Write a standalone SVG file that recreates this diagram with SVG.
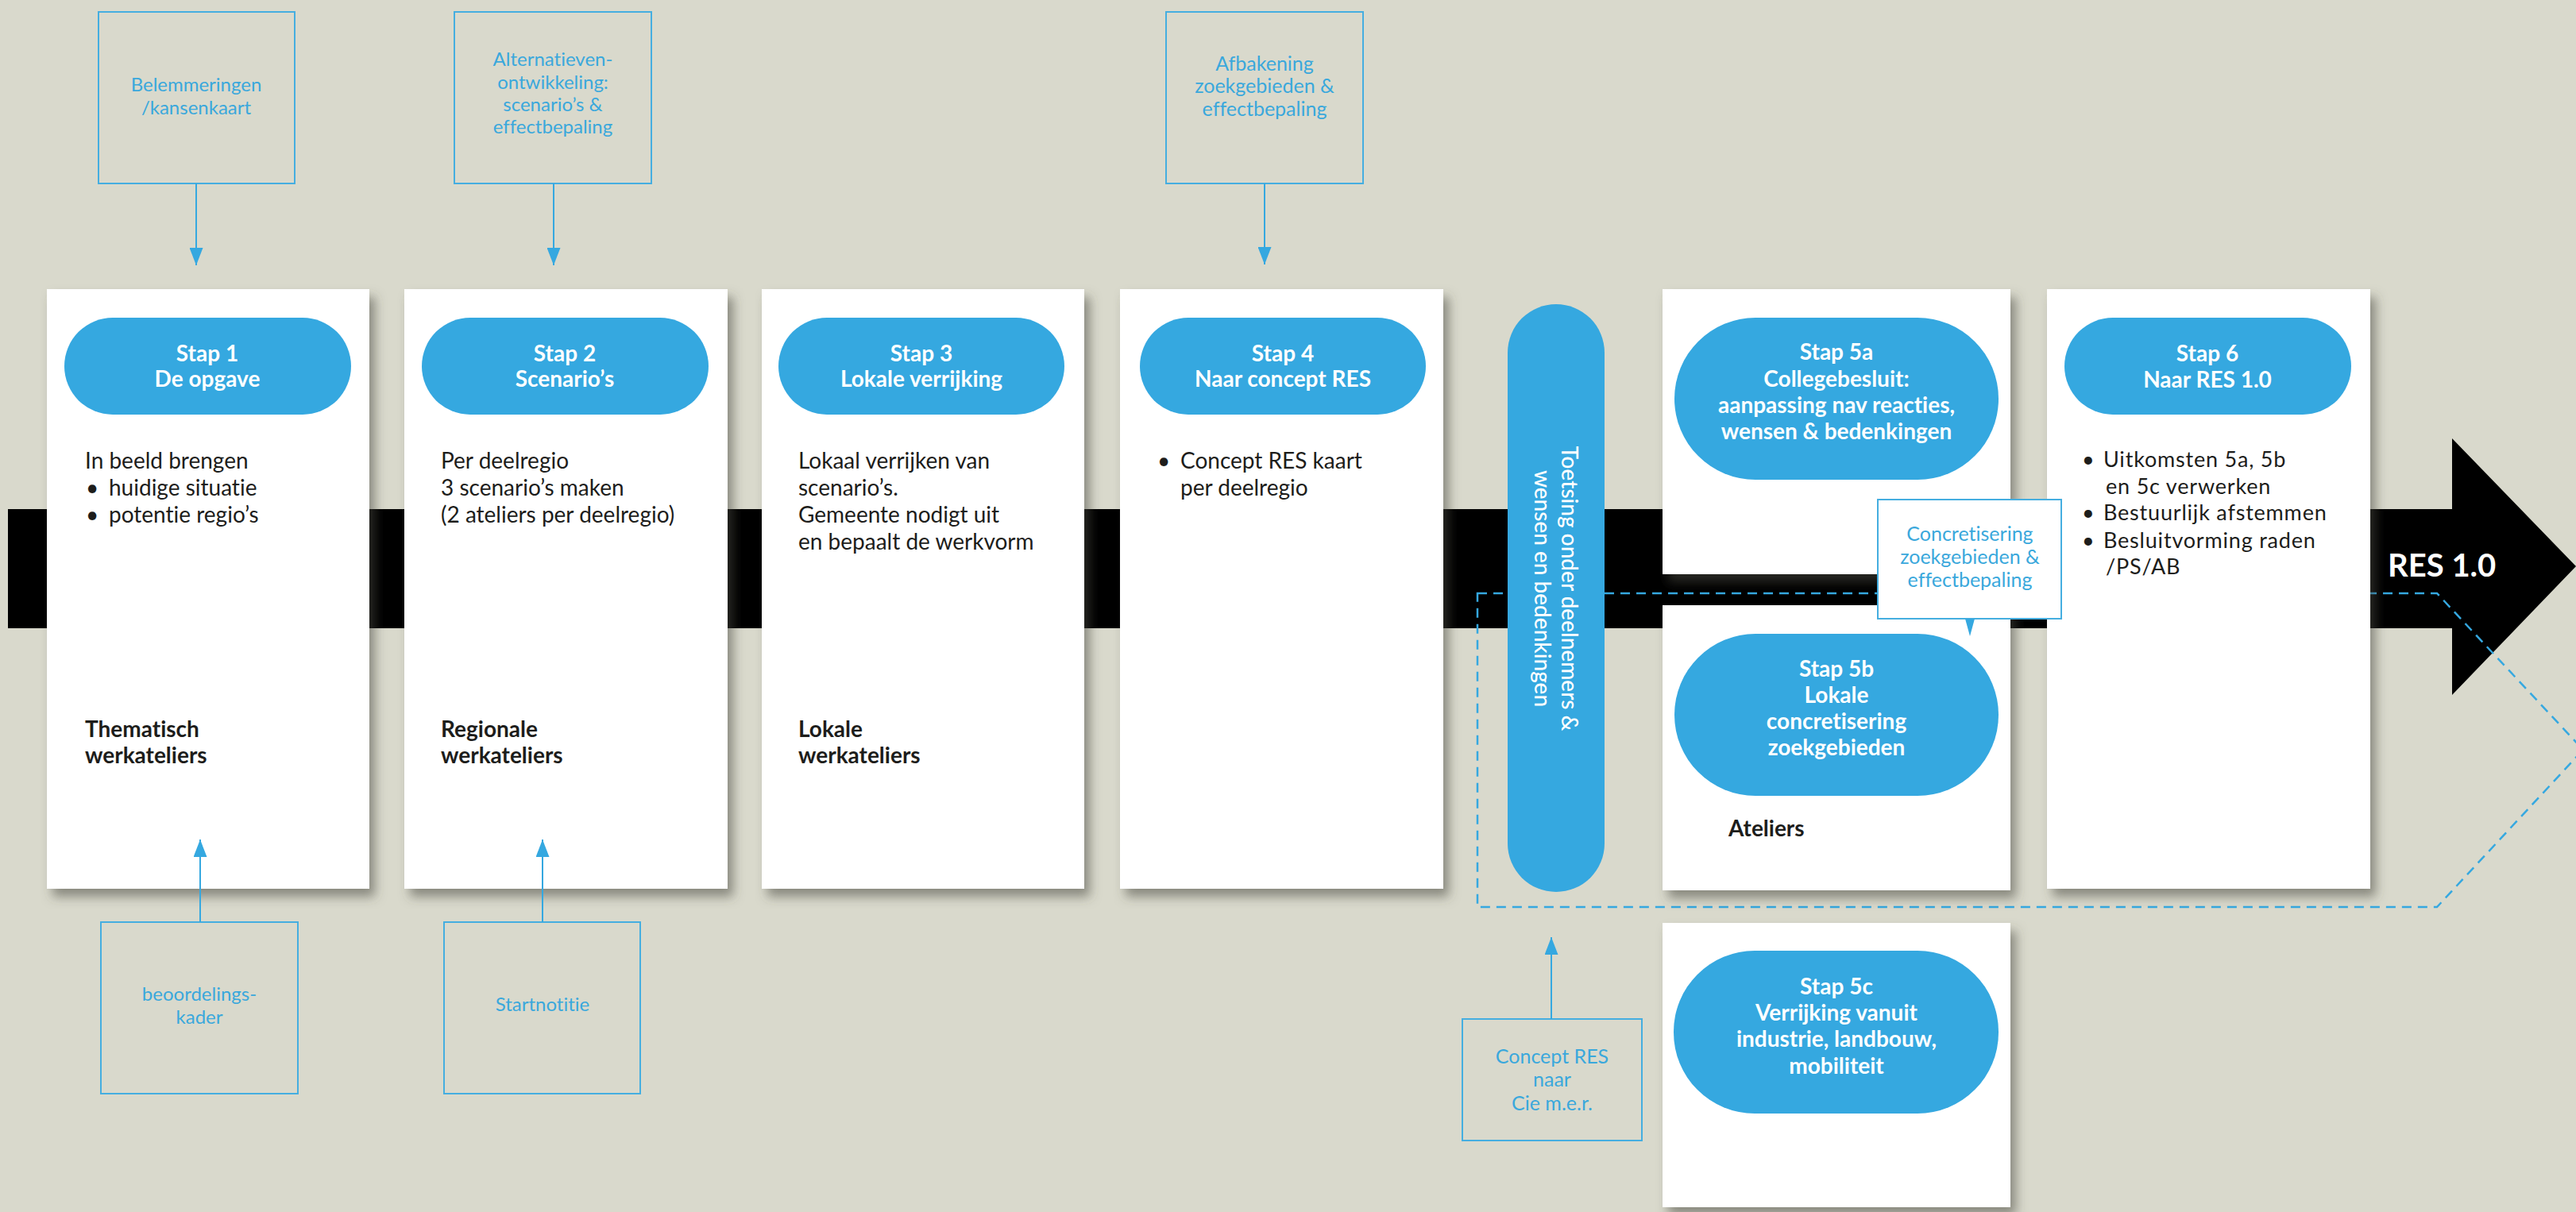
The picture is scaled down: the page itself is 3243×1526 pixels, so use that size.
<svg xmlns="http://www.w3.org/2000/svg" width="3243" height="1526" viewBox="0 0 3243 1526">
<defs>
<style>
text{font-variant-ligatures:none}
.bg{fill:#d9d9cc}
.card{fill:#ffffff;filter:url(#sh)}
.pill{fill:#35a8e0}
.box{fill:none;stroke:#45aee0;stroke-width:2}
.pt{font-family:Lato,"Open Sans",sans-serif;font-weight:700;font-size:28px;fill:#ffffff;text-anchor:middle}
.vt{font-family:Lato,"Open Sans",sans-serif;font-weight:500;font-size:28px;fill:#ffffff;text-anchor:middle}
.body{font-family:Lato,"Open Sans",sans-serif;font-size:28px;fill:#1d1d1b}
.b6{font-family:Lato,"Open Sans",sans-serif;font-size:27px;fill:#1d1d1b;letter-spacing:0.8px}
.bold{font-family:Lato,"Open Sans",sans-serif;font-size:28px;font-weight:700;fill:#1d1d1b}
.bt{font-family:Lato,"Open Sans",sans-serif;font-size:24px;fill:#3aa8dc;text-anchor:middle}
.bw{font-family:Lato,"Open Sans",sans-serif;font-size:25px;fill:#3aa8dc;text-anchor:middle}
.conn{stroke:#35a8e0;stroke-width:2;fill:none}
.dash{stroke:#35a8e0;stroke-width:2.5;fill:none;stroke-dasharray:12 8}
</style>
<filter id="sh" x="-10%" y="-10%" width="130%" height="130%">
<feDropShadow dx="7" dy="10" stdDeviation="7" flood-color="#4a4a40" flood-opacity="0.55"/>
</filter>
<marker id="ah" markerUnits="userSpaceOnUse" markerWidth="22" markerHeight="17" refX="22" refY="8.5" orient="auto">
<path d="M0,0 L22,8.5 L0,17 Z" fill="#35a8e0"/>
</marker>
</defs>
<rect class="bg" x="0" y="0" width="3243" height="1526"/>

<g id="timeline">
<polygon points="10,641 3087,641 3087,552 3243,713 3087,875 3087,791 10,791" fill="#000000"/>
<text x="3006" y="726" font-family="Lato,'Open Sans',sans-serif" font-weight="700" font-size="40" fill="#ffffff">RES 1.0</text>
</g>

<g id="stap5-kader">
<path class="dash" d="M1860,747 H3068 L3252,944 L3068,1142 H1860 Z"/>
</g>

<g id="stap1">
<rect class="card" x="59" y="364" width="406" height="755"/>
<rect class="pill" x="81" y="400" width="361" height="122" rx="61"/>
<text class="pt" x="261" y="455">Stap 1</text>
<text class="pt" x="261" y="487">De opgave</text>
<text class="body" x="107" y="590">In beeld brengen</text>
<text class="body" x="108" y="624">•</text>
<text class="body" x="137" y="624">huidige situatie</text>
<text class="body" x="108" y="658">•</text>
<text class="body" x="137" y="658">potentie regio’s</text>
<text class="bold" x="107" y="928">Thematisch</text>
<text class="bold" x="107" y="961">werkateliers</text>
</g>

<g id="stap2">
<rect class="card" x="509" y="364" width="407" height="755"/>
<rect class="pill" x="531" y="400" width="361" height="122" rx="61"/>
<text class="pt" x="711" y="455">Stap 2</text>
<text class="pt" x="711" y="487">Scenario’s</text>
<text class="body" x="555" y="590">Per deelregio</text>
<text class="body" x="555" y="624">3 scenario’s maken</text>
<text class="body" x="555" y="658">(2 ateliers per deelregio)</text>
<text class="bold" x="555" y="928">Regionale</text>
<text class="bold" x="555" y="961">werkateliers</text>
</g>

<g id="stap3">
<rect class="card" x="959" y="364" width="406" height="755"/>
<rect class="pill" x="980" y="400" width="360" height="122" rx="61"/>
<text class="pt" x="1160" y="455">Stap 3</text>
<text class="pt" x="1160" y="487">Lokale verrijking</text>
<text class="body" x="1005" y="590">Lokaal verrijken van</text>
<text class="body" x="1005" y="624">scenario’s.</text>
<text class="body" x="1005" y="658">Gemeente nodigt uit</text>
<text class="body" x="1005" y="692">en bepaalt de werkvorm</text>
<text class="bold" x="1005" y="928">Lokale</text>
<text class="bold" x="1005" y="961">werkateliers</text>
</g>

<g id="stap4">
<rect class="card" x="1410" y="364" width="407" height="755"/>
<rect class="pill" x="1435" y="400" width="360" height="122" rx="61"/>
<text class="pt" x="1615" y="455">Stap 4</text>
<text class="pt" x="1615" y="487">Naar concept RES</text>
<text class="body" x="1457" y="590">•</text>
<text class="body" x="1486" y="590">Concept RES kaart</text>
<text class="body" x="1486" y="624">per deelregio</text>
</g>

<g id="toetsing">
<rect class="pill" x="1898" y="383" width="122" height="740" rx="61"/>
<g transform="translate(1966,741) rotate(90)">
<text class="vt" x="0" y="0">Toetsing onder deelnemers &amp;</text>
<text class="vt" x="0" y="34">wensen en bedenkingen</text>
</g>
</g>

<g id="stap5a">
<rect class="card" x="2093" y="364" width="438" height="359"/>
<rect class="pill" x="2108" y="400" width="408" height="204" rx="102"/>
<text class="pt" x="2312" y="453">Stap 5a</text>
<text class="pt" x="2312" y="487">Collegebesluit:</text>
<text class="pt" x="2312" y="520">aanpassing nav reacties,</text>
<text class="pt" x="2312" y="553">wensen &amp; bedenkingen</text>
</g>

<g id="stap5b">
<rect class="card" x="2093" y="762" width="438" height="359"/>
<rect class="pill" x="2108" y="798" width="408" height="204" rx="102"/>
<text class="pt" x="2312" y="852">Stap 5b</text>
<text class="pt" x="2312" y="885">Lokale</text>
<text class="pt" x="2312" y="918">concretisering</text>
<text class="pt" x="2312" y="951">zoekgebieden</text>
<text class="bold" x="2176" y="1053">Ateliers</text>
</g>

<g id="stap5c">
<rect class="card" x="2093" y="1162" width="438" height="358"/>
<rect class="pill" x="2107" y="1197" width="409" height="205" rx="102"/>
<text class="pt" x="2312" y="1252">Stap 5c</text>
<text class="pt" x="2312" y="1285">Verrijking vanuit</text>
<text class="pt" x="2312" y="1318">industrie, landbouw,</text>
<text class="pt" x="2312" y="1352">mobiliteit</text>
</g>

<g id="stap6">
<rect class="card" x="2577" y="364" width="407" height="755"/>
<rect class="pill" x="2599" y="400" width="361" height="122" rx="61"/>
<text class="pt" x="2779" y="455">Stap 6</text>
<text class="pt" x="2779" y="488">Naar RES 1.0</text>
<text class="b6" x="2621" y="588">•</text>
<text class="b6" x="2648" y="588">Uitkomsten 5a, 5b</text>
<text class="b6" x="2651" y="622">en 5c verwerken</text>
<text class="b6" x="2621" y="655">•</text>
<text class="b6" x="2648" y="655">Bestuurlijk afstemmen</text>
<text class="b6" x="2621" y="690">•</text>
<text class="b6" x="2648" y="690">Besluitvorming raden</text>
<text class="b6" x="2651" y="723">/PS/AB</text>
</g>

<g id="concretisering">
<rect x="2364" y="629" width="231" height="150" fill="#ffffff" stroke="#45aee0" stroke-width="2"/>
<polygon points="2474,779 2486,779 2480,801" fill="#35a8e0"/>
<text class="bw" x="2480" y="681">Concretisering</text>
<text class="bw" x="2480" y="710">zoekgebieden &amp;</text>
<text class="bw" x="2480" y="739">effectbepaling</text>
</g>

<g id="belemmeringen">
<rect class="box" x="124" y="15" width="247" height="216"/>
<text class="bt" x="247" y="115">Belemmeringen</text>
<text class="bt" x="247" y="144">/kansenkaart</text>
</g>

<g id="alternatieven">
<rect class="box" x="572" y="15" width="248" height="216"/>
<text class="bt" x="696" y="83">Alternatieven-</text>
<text class="bt" x="696" y="112">ontwikkeling:</text>
<text class="bt" x="696" y="140">scenario’s &amp;</text>
<text class="bt" x="696" y="168">effectbepaling</text>
</g>

<g id="afbakening">
<rect class="box" x="1468" y="15" width="248" height="216"/>
<text class="bw" x="1592" y="89">Afbakening</text>
<text class="bw" x="1592" y="117">zoekgebieden &amp;</text>
<text class="bw" x="1592" y="146">effectbepaling</text>
</g>

<g id="beoordelingskader">
<rect class="box" x="127" y="1161" width="248" height="216"/>
<text class="bt" x="251" y="1260">beoordelings-</text>
<text class="bt" x="251" y="1289">kader</text>
</g>

<g id="startnotitie">
<rect class="box" x="559" y="1161" width="247" height="216"/>
<text class="bt" x="683" y="1273">Startnotitie</text>
</g>

<g id="conceptres">
<rect class="box" x="1841" y="1283" width="226" height="153"/>
<text class="bw" x="1954" y="1339">Concept RES</text>
<text class="bw" x="1954" y="1368">naar</text>
<text class="bw" x="1954" y="1398">Cie m.e.r.</text>
</g>

<g id="connectors">
<line class="conn" x1="247" y1="231" x2="247" y2="334" marker-end="url(#ah)"/>
<line class="conn" x1="697" y1="231" x2="697" y2="334" marker-end="url(#ah)"/>
<line class="conn" x1="1592" y1="231" x2="1592" y2="333" marker-end="url(#ah)"/>
<line class="conn" x1="252" y1="1161" x2="252" y2="1057" marker-end="url(#ah)"/>
<line class="conn" x1="683" y1="1161" x2="683" y2="1057" marker-end="url(#ah)"/>
<line class="conn" x1="1953" y1="1283" x2="1953" y2="1180" marker-end="url(#ah)"/>
</g>
</svg>
